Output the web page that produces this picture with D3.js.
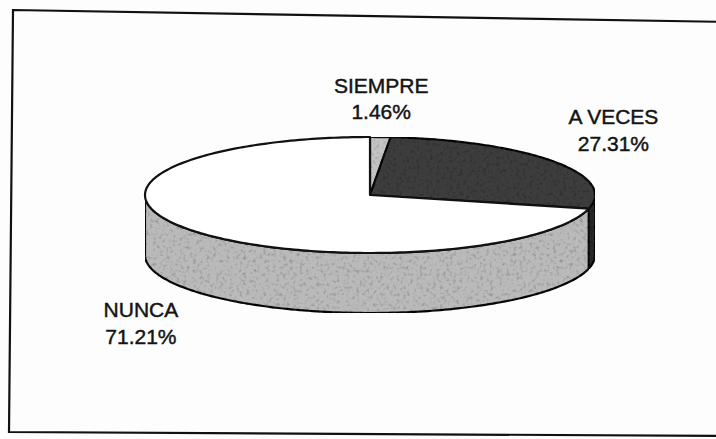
<!DOCTYPE html>
<html>
<head>
<meta charset="utf-8">
<script src="https://cdn.jsdelivr.net/npm/d3@7/dist/d3.min.js"></script>
<style>
  body { margin: 0; background: #fdfdfd; }
  svg text { font-family: "Liberation Sans", Arial, sans-serif; font-size: 21px; fill: #141414; stroke: #141414; stroke-width: 0.45px; }
</style>
</head>
<body>
<svg id="chart"></svg>
<script>
// data
let categories = ['SIEMPRE', 'A VECES', 'NUNCA']
let percents = [1.46, 27.31, 71.21]
let pctText = ['1.46%', '27.31%', '71.21%']

let width = 716
let height = 439

// pie geometry (ellipse seen at a tilt)
let cx = 370
let cy = 195
let rx = 225
let ry = 58
let depth = 60
let labelRx = 244
let labelRy = 76
let lineGap = 26.5

let svg = d3.select('#chart')
  .attr('width', width)
  .attr('height', height)

let topColor = d3.scaleOrdinal()
  .domain(categories)
  .range(['#c4c4c4', '#3d3d3d', '#ffffff'])

let sideColor = d3.scaleOrdinal()
  .domain(categories)
  .range(['#8c8c8c', '#2c2c2c', '#bababa'])

// grainy scan look
let defs = svg.append('defs')
let grain = defs.append('filter').attr('id', 'grain')
  .attr('x', 0).attr('y', 0).attr('width', 1).attr('height', 1)
grain.append('feTurbulence')
  .attr('type', 'fractalNoise')
  .attr('baseFrequency', 0.3)
  .attr('numOctaves', 2)
  .attr('seed', 4)
  .attr('result', 'noise')
grain.append('feColorMatrix')
  .attr('in', 'noise')
  .attr('type', 'matrix')
  .attr('values', '0 0 0 0 0  0 0 0 0 0  0 0 0 0 0  0 0 0 -1.1 0.55')
  .attr('result', 'dots')
grain.append('feComposite')
  .attr('in', 'dots')
  .attr('in2', 'SourceGraphic')
  .attr('operator', 'in')
  .attr('result', 'dotsIn')
grain.append('feMerge').call(m => {
  m.append('feMergeNode').attr('in', 'SourceGraphic')
  m.append('feMergeNode').attr('in', 'dotsIn')
})

// frame (slightly skewed, like the scan)
let frame = d3.line()([[13, 10], [730, 22], [730, 436], [9, 432]])
svg.append('path')
  .attr('d', frame + 'Z')
  .attr('fill', 'none')
  .attr('stroke', '#111')
  .attr('stroke-width', 2.2)

let pie = d3.pie().sort(null).value(d => d.value)
let slices = pie(categories.map((c, i) => ({ name: c, value: percents[i], text: pctText[i] })))

let pt = (a, dy) => [cx + rx * Math.sin(a), cy - ry * Math.cos(a) + dy]
let arcPts = (a0, a1, dy) => {
  let n = Math.max(2, Math.ceil(Math.abs(a1 - a0) / 0.02))
  return d3.range(n + 1).map(i => pt(a0 + (a1 - a0) * i / n, dy))
}
let line = d3.line()

// sides (front half only)
let sides = slices.map(s => {
  let s0 = Math.max(s.startAngle, Math.PI / 2)
  let s1 = Math.min(s.endAngle, 3 * Math.PI / 2)
  return { s: s, s0: s0, s1: s1 }
}).filter(d => d.s0 < d.s1)

svg.append('g')
  .selectAll('path')
  .data(sides)
  .enter()
  .append('path')
  .attr('d', d => line(arcPts(d.s0, d.s1, 0).concat(arcPts(d.s1, d.s0, depth))) + 'Z')
  .attr('fill', d => sideColor(d.s.data.name))
  .attr('filter', 'url(#grain)')
  .attr('stroke', '#111')
  .attr('stroke-width', 2.2)
  .attr('stroke-linejoin', 'round')

// tops
svg.append('g')
  .selectAll('path')
  .data(slices)
  .enter()
  .append('path')
  .attr('d', d => line([[cx, cy]].concat(arcPts(d.startAngle, d.endAngle, 0))) + 'Z')
  .attr('fill', d => topColor(d.data.name))
  .attr('filter', d => d.data.name === 'NUNCA' ? null : 'url(#grain)')
  .attr('stroke', '#111')
  .attr('stroke-width', 2.2)
  .attr('stroke-linejoin', 'round')

// labels, placed just outside each slice like the original
let labelG = svg.append('g')
slices.forEach(d => {
  let mid = (d.startAngle + d.endAngle) / 2
  let px = cx + labelRx * Math.sin(mid)
  let py = cy - labelRy * Math.cos(mid) + (Math.cos(mid) < 0 ? depth : 0)
  let g = labelG.append('g')
  let t1 = g.append('text').attr('text-anchor', 'middle').text(d.data.name)
  let t2 = g.append('text').attr('text-anchor', 'middle').text(d.data.text)
  let w = Math.max(t1.node().getComputedTextLength(), t2.node().getComputedTextLength())
  let s = Math.sin(mid)
  let xc = Math.abs(s) < 0.15 ? px : px + Math.sign(s) * w / 2
  let capH = 15
  let blockTop = Math.cos(mid) > 0 ? py - (capH + lineGap) : py
  t1.attr('x', xc).attr('y', blockTop + capH)
  t2.attr('x', xc).attr('y', blockTop + capH + lineGap)
})
</script>
</body>
</html>
